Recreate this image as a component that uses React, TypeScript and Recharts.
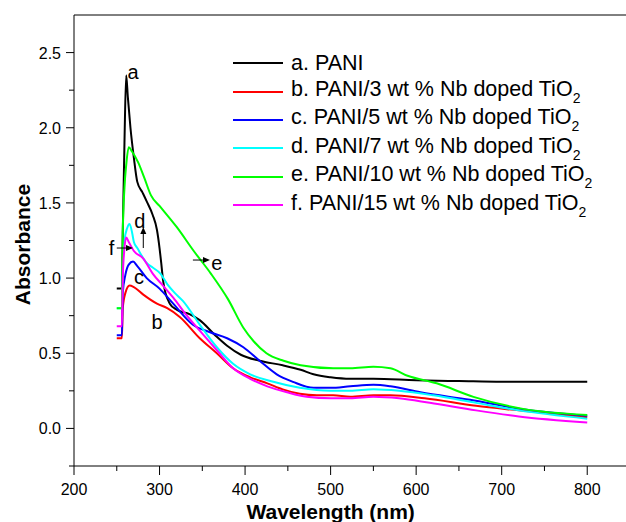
import React from 'react';
import {
  LineChart,
  Line,
  XAxis,
  YAxis,
  Legend,
  Label,
  ReferenceDot,
  ReferenceLine,
} from 'recharts';

// wavelength (nm) / absorbance pairs
const PANI_W = [250, 256, 257, 259, 261, 263, 266, 270, 274, 280, 285, 292, 297, 300, 302, 304, 307, 312, 320, 335, 347, 365, 379, 395, 417, 444, 465, 480, 500, 523, 550, 600, 650, 700, 800];
const PANI_A = [0.93, 0.93, 1.3, 1.9, 2.35, 2.2, 2.0, 1.8, 1.64, 1.57, 1.51, 1.42, 1.32, 1.2, 1.1, 0.99, 0.9, 0.83, 0.79, 0.76, 0.72, 0.62, 0.55, 0.49, 0.45, 0.42, 0.39, 0.36, 0.34, 0.33, 0.33, 0.32, 0.315, 0.31, 0.31];

const NB3_W = [250, 256, 257, 260, 265, 270, 281, 297, 309, 324, 347, 367, 386, 406, 426, 444, 464, 484, 503, 523, 550, 570, 610, 670, 720, 800];
const NB3_A = [0.6, 0.6, 0.8, 0.9, 0.95, 0.94, 0.89, 0.83, 0.8, 0.74, 0.6, 0.5, 0.4, 0.34, 0.3, 0.26, 0.23, 0.22, 0.22, 0.21, 0.22, 0.22, 0.2, 0.15, 0.12, 0.075];

const NB5_W = [250, 256, 257, 260, 264, 269, 274, 285, 300, 316, 339, 359, 379, 398, 417, 437, 456, 480, 500, 523, 550, 570, 605, 663, 722, 800];
const NB5_A = [0.62, 0.62, 0.9, 1.02, 1.09, 1.11, 1.08, 1.0, 0.93, 0.83, 0.69, 0.64, 0.6, 0.54, 0.45, 0.36, 0.31, 0.27, 0.27, 0.28, 0.29, 0.28, 0.24, 0.19, 0.13, 0.085];

const NB7_W = [250, 256, 257, 259, 262, 265, 268, 270, 274, 285, 292, 301, 309, 318, 327, 347, 367, 386, 406, 433, 464, 500, 523, 550, 580, 620, 670, 720, 800];
const NB7_A = [0.8, 0.8, 1.1, 1.25, 1.33, 1.36, 1.3, 1.24, 1.2, 1.1, 1.07, 1.03, 0.96, 0.9, 0.85, 0.69, 0.54, 0.43, 0.36, 0.31, 0.27, 0.25, 0.25, 0.26, 0.25, 0.22, 0.17, 0.12, 0.065];

const NB10_W = [250, 256, 257, 259, 261, 264, 268, 275, 282, 290, 300, 320, 340, 360, 380, 398, 410, 425, 445, 465, 503, 523, 550, 570, 590, 624, 667, 725, 800];
const NB10_A = [0.8, 0.8, 1.3, 1.6, 1.75, 1.87, 1.84, 1.77, 1.67, 1.55, 1.48, 1.34, 1.18, 1.03, 0.86, 0.67, 0.58, 0.5, 0.45, 0.42, 0.4, 0.4, 0.41, 0.4, 0.35, 0.3, 0.21, 0.13, 0.09];

const NB15_W = [250, 256, 257, 259, 261, 264, 270, 281, 292, 304, 316, 332, 347, 367, 386, 406, 426, 449, 472, 500, 523, 550, 580, 616, 670, 720, 800];
const NB15_A = [0.68, 0.68, 1.0, 1.2, 1.27, 1.24, 1.18, 1.13, 1.03, 0.95, 0.87, 0.75, 0.65, 0.52, 0.4, 0.33, 0.28, 0.24, 0.21, 0.2, 0.2, 0.21, 0.2, 0.17, 0.12, 0.08, 0.04];

const X_TICKS = [200, 250, 300, 350, 400, 450, 500, 550, 600, 650, 700, 750, 800];
const Y_TICKS = [-0.25, 0, 0.25, 0.5, 0.75, 1, 1.25, 1.5, 1.75, 2, 2.25, 2.5];

const toPoints = (w: number[], a: number[]) => w.map((x, i) => ({ w: x, v: a[i] }));

const SERIES = [
  { key: 'a', label: 'a. PANI', color: '#000000', data: toPoints(PANI_W, PANI_A), tio2: false },
  { key: 'b', label: 'b. PANI/3 wt % Nb doped TiO', color: '#ff0000', data: toPoints(NB3_W, NB3_A), tio2: true },
  { key: 'c', label: 'c. PANI/5 wt % Nb doped TiO', color: '#0000ff', data: toPoints(NB5_W, NB5_A), tio2: true },
  { key: 'd', label: 'd. PANI/7 wt % Nb doped TiO', color: '#00ffff', data: toPoints(NB7_W, NB7_A), tio2: true },
  { key: 'e', label: 'e. PANI/10 wt % Nb doped TiO', color: '#00ff00', data: toPoints(NB10_W, NB10_A), tio2: true },
  { key: 'f', label: 'f. PANI/15 wt % Nb doped TiO', color: '#ff00ff', data: toPoints(NB15_W, NB15_A), tio2: true },
];

// curve letters placed in data space
const LETTERS = [
  { t: 'a', w: 269, v: 2.37 },
  { t: 'b', w: 297, v: 0.71 },
  { t: 'c', w: 276, v: 1.01 },
  { t: 'd', w: 277, v: 1.38 },
  { t: 'f', w: 244, v: 1.2 },
  { t: 'e', w: 367, v: 1.1 },
];

const ARROWS = [
  { from: { w: 281, v: 1.2 }, to: { w: 281, v: 1.34 } },
  { from: { w: 250, v: 1.2 }, to: { w: 269, v: 1.2 } },
  { from: { w: 339, v: 1.12 }, to: { w: 359, v: 1.12 } },
];

const FONT = '"Liberation Sans", Arial, sans-serif';

const XTick = ({ x, y, payload }: any) => {
  const major = payload.value % 100 === 0;
  return (
    <g>
      <line x1={x} y1={y} x2={x} y2={y + (major ? 9 : 5)} stroke="#000" />
      {major && (
        <text x={x} y={y + 29} textAnchor="middle" fontSize={16} fontFamily={FONT} fill="#000">
          {payload.value}
        </text>
      )}
    </g>
  );
};

const YTick = ({ x, y, payload }: any) => {
  const v = payload.value;
  const major = Math.abs(v * 2 - Math.round(v * 2)) < 1e-6 && v >= 0;
  return (
    <g>
      <line x1={x - (major ? 8 : 5)} y1={y} x2={x} y2={y} stroke="#000" />
      {major && (
        <text x={x - 13} y={y + 6} textAnchor="end" fontSize={16} fontFamily={FONT} fill="#000">
          {v.toFixed(1)}
        </text>
      )}
    </g>
  );
};

const Arrow = ({ x1, y1, x2, y2 }: any) => {
  const ang = Math.atan2(y2 - y1, x2 - x1);
  const L = 7;
  const W = 3;
  const bx = x2 - L * Math.cos(ang);
  const by = y2 - L * Math.sin(ang);
  const px = -Math.sin(ang) * W;
  const py = Math.cos(ang) * W;
  return (
    <g>
      <line x1={x1} y1={y1} x2={bx} y2={by} stroke="#000" strokeWidth={1} />
      <polygon points={`${x2},${y2} ${bx + px},${by + py} ${bx - px},${by - py}`} fill="#000" />
    </g>
  );
};

const LegendBox = () => (
  <div style={{ fontFamily: FONT, fontSize: 21.5, color: '#000' }}>
    {SERIES.map((s) => (
      <div key={s.key} style={{ display: 'flex', alignItems: 'center', height: 28.4, whiteSpace: 'nowrap' }}>
        <div style={{ width: 50, height: 2, background: s.color, marginRight: 8 }} />
        <span>
          {s.label}
          {s.tio2 && <sub style={{ fontSize: 14, verticalAlign: -7 }}>2</sub>}
        </span>
      </div>
    ))}
  </div>
);

export default function App() {
  return (
    <div style={{ position: 'absolute', left: 0, top: 0, width: 626, height: 522, overflow: 'hidden', background: '#fff' }}>
      <LineChart width={640} height={522} margin={{ top: 15, right: 10, left: 14, bottom: 0 }}>
        <XAxis
          type="number"
          dataKey="w"
          domain={[200, 850]}
          ticks={X_TICKS}
          interval={0}
          allowDataOverflow
          stroke="#000"
          tickLine={false}
          tickSize={0}
          tickMargin={0}
          tick={<XTick />}
          height={56}
        >
          <Label
            content={({ viewBox }: any) => (
              <text
                x={viewBox.x + (viewBox.width * 300) / 650}
                y={viewBox.y + 53}
                textAnchor="middle"
                fontSize={21}
                fontWeight="bold"
                fontFamily={FONT}
                fill="#000"
              >
                Wavelength (nm)
              </text>
            )}
          />
        </XAxis>
        <YAxis
          type="number"
          domain={[-0.25, 2.75]}
          ticks={Y_TICKS}
          interval={0}
          allowDataOverflow
          stroke="#000"
          tickLine={false}
          tickSize={0}
          tickMargin={0}
          tick={<YTick />}
          width={60}
        >
          <Label
            content={({ viewBox }: any) => {
              const cx = viewBox.x + 8;
              const cy = viewBox.y + viewBox.height / 2 + 4;
              return (
                <text
                  x={cx}
                  y={cy}
                  transform={`rotate(-90 ${cx} ${cy})`}
                  textAnchor="middle"
                  dominantBaseline="central"
                  fontSize={21}
                  fontWeight="bold"
                  fontFamily={FONT}
                  fill="#000"
                >
                  Absorbance
                </text>
              );
            }}
          />
        </YAxis>
        <ReferenceLine y={2.75} stroke="#000" strokeWidth={1} ifOverflow="visible" />
        {SERIES.map((s) => (
          <Line
            key={s.key}
            data={s.data}
            dataKey="v"
            type="monotone"
            stroke={s.color}
            strokeWidth={2}
            dot={false}
            isAnimationActive={false}
          />
        ))}
        {LETTERS.map((l) => (
          <ReferenceDot
            key={l.t}
            x={l.w}
            y={l.v}
            ifOverflow="visible"
            shape={(p: any) => (
              <text
                x={p.cx}
                y={p.cy}
                textAnchor="middle"
                dominantBaseline="central"
                fontSize={20}
                fontFamily={FONT}
                fill="#000"
              >
                {l.t}
              </text>
            )}
          />
        ))}
        {ARROWS.map((a, i) => (
          <ReferenceLine
            key={i}
            segment={[
              { x: a.from.w, y: a.from.v },
              { x: a.to.w, y: a.to.v },
            ]}
            ifOverflow="visible"
            shape={(p: any) => <Arrow {...p} />}
          />
        ))}
        <Legend
          layout="vertical"
          align="center"
          verticalAlign="middle"
          content={<LegendBox />}
          wrapperStyle={{ left: 233, top: 49, width: 'auto', height: 'auto' }}
        />
      </LineChart>
    </div>
  );
}
